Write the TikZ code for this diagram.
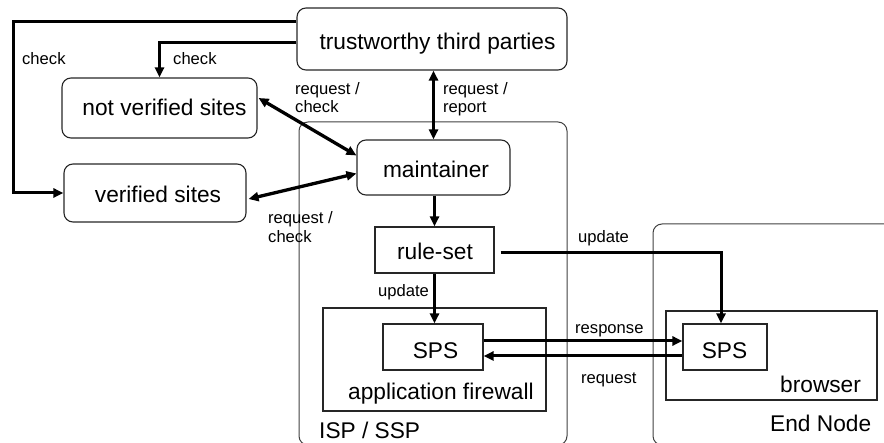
\documentclass[tikz,border=0pt]{standalone}
\usepackage{fontspec}
\setmainfont{Liberation Sans}
\usetikzlibrary{arrows.meta,calc}
\begin{document}
\begin{tikzpicture}[x=1pt,y=-1pt,
  big/.style={font=\fontsize{22.7}{27}\selectfont},
  small/.style={font=\fontsize{16.6}{18}\selectfont, inner sep=0pt},
  rbox/.style={draw=black!85, line width=1.1pt, rounded corners=9pt, inner sep=0pt},
  sbox/.style={draw=black!85, line width=1.1pt, inner sep=0pt},
  container/.style={draw=black!75, line width=1pt, rounded corners=9pt, inner sep=0pt},
  boxtext/.style={big, inner sep=0pt, anchor=base},
  captext/.style={big, inner sep=0pt, anchor=base west},
  lbl/.style={small, anchor=base west},
  tip/.tip={Triangle[length=10pt,width=9pt]},
  conn/.style={line width=3pt, -tip},
  biconn/.style={line width=3.3pt, tip-tip},
]
\useasboundingbox (0,0) rectangle (884,443);
\clip (0,0) rectangle (884,443);

% containers
\node[container, minimum width=268pt, minimum height=323pt] (isp) at (433,283.5) {};
\node[container, minimum width=260pt, minimum height=221pt] (endn) at (783,334.5) {};
\node[sbox, minimum width=223pt, minimum height=103pt] (af) at (434.5,359.5) {};
\node[sbox, minimum width=211pt, minimum height=89pt] (br) at (771.5,355.5) {};

% boxes
\node[rbox, minimum width=270pt, minimum height=62pt] (tp) at (432,39) {};
\node[rbox, minimum width=195pt, minimum height=60pt] (nv) at (159.5,108) {};
\node[rbox, minimum width=182pt, minimum height=58pt] (vs) at (155,193) {};
\node[rbox, minimum width=153pt, minimum height=55pt] (mt) at (433.5,167.5) {};
\node[sbox, minimum width=119pt, minimum height=46pt] (rs) at (434.5,250) {};
\node[sbox, minimum width=100pt, minimum height=46pt] (spsL) at (433,347) {};
\node[sbox, minimum width=84pt, minimum height=46pt] (spsR) at (725,347) {};

% box texts
\node[boxtext] (tpt) at (437.5,50) {trustworthy third parties};
\node[boxtext] (nvt) at (164.5,116) {not verified sites};
\node[boxtext] (vst) at (158,203) {verified sites};
\node[boxtext] (mtt) at (436,178) {maintainer};
\node[boxtext] (rst) at (435,260) {rule-set};
\node[boxtext] (spsLt) at (435.5,359) {SPS};
\node[boxtext] (spsRt) at (724.5,359) {SPS};

% container captions
\node[captext] (aft) at (348,400) {application firewall};
\node[captext] (brt) at (780,393) {browser};
\node[captext] (endt) at (770,432) {End Node};
\node[captext] (ispt) at (319,439) {ISP / SSP};

% connectors
\coordinate (c1) at (13,22);
\coordinate (c2) at (297,43);
\coordinate (c3) at (721,253);
\coordinate (yresp) at (0,341);
\coordinate (yreq) at (0,356);

\draw[conn] (tp.west |- c1) -- (c1) |- (vs.west);
\draw[conn] (tp.west |- c2) -| (nv.north);
\draw[biconn, line width=3pt] (mt.north |- tp.south) -- (mt.north);
\draw[biconn] ([shift={(1,-10)}]nv.east) -- ([shift={(0,-12)}]mt.west);
\draw[biconn] ([shift={(2,6)}]vs.east) -- ([shift={(0,6)}]mt.west);
\draw[conn] (rs.north |- mt.south) -- (rs.north);
\draw[conn] (rs.south) -- (rs.south |- spsL.north);
\draw[conn] ([xshift=6pt]rs.east |- c3) -- (c3) -- (c3 |- spsR.north);
\draw[conn] (spsL.east |- yresp) -- (spsR.west |- yresp);
\draw[conn] (spsR.west |- yreq) -- (spsL.east |- yreq);

% labels
\node[lbl] (l1) at (22,65) {check};
\node[lbl] (l2) at (173,65) {check};
\node[lbl] (l3a) at (295,95) {request /};
\node[lbl] (l3b) at (295,113) {check};
\node[lbl] (l4a) at (443,95) {request /};
\node[lbl] (l4b) at (443,113) {report};
\node[lbl] (l5a) at (268,224) {request /};
\node[lbl] (l5b) at (268,243) {check};
\node[lbl] (l6) at (578,243) {update};
\node[lbl] (l7) at (378,297) {update};
\node[lbl] (l8) at (575,334) {response};
\node[lbl] (l9) at (581,384) {request};
\end{tikzpicture}
\end{document}
